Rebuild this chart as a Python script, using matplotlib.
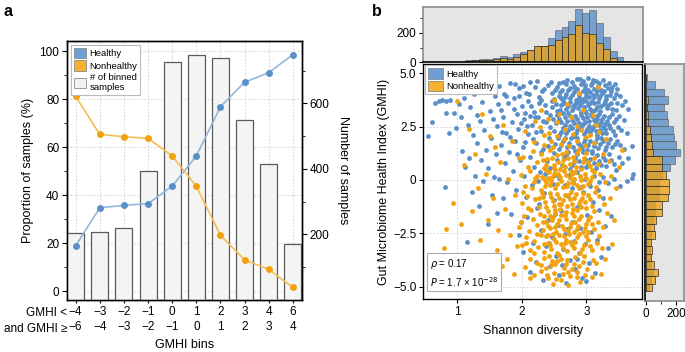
import numpy as np
import matplotlib
matplotlib.use('Agg')
import matplotlib.pyplot as plt
from matplotlib.patches import Patch
from matplotlib.ticker import MultipleLocator, FixedLocator

plt.rcParams['font.family'] = ['Liberation Sans', 'DejaVu Sans']
plt.rcParams['axes.unicode_minus'] = True

# ---------------- Panel a data ----------------
bin_upper = ['−4', '−3', '−2', '−1', '0', '1', '2', '3', '4', '6']
bin_lower = ['−6', '−4', '−3', '−2', '−1', '0', '1', '2', '3', '4']
healthy_pct = [18.9, 34.7, 35.7, 36.4, 43.7, 56.3, 76.8, 87.0, 91.0, 98.5]
nonhealthy_pct = [81.1, 65.3, 64.3, 63.6, 56.3, 43.7, 23.2, 13.0, 9.0, 1.5]
binned_counts = [205, 208, 221, 393, 726, 747, 738, 550, 414, 170]

# ---------------- Panel b data ----------------
# Marginal histogram of Shannon diversity (30 bins, 0.59 .. 3.77)
shannon_healthy = [5, 3, 4, 4, 5, 14, 16, 20, 20, 27, 41, 39, 55, 73, 86, 109, 109, 166,
                   218, 243, 282, 364, 336, 357, 266, 170, 75, 36, 11, 2]
shannon_nonhealthy = [4, 2, 4, 4, 4, 12, 14, 14, 18, 25, 27, 23, 36, 55, 86, 109, 109, 118,
                      152, 170, 191, 255, 202, 191, 130, 89, 27, 11, 5, 1]
# Marginal histogram of GMHI (29 bins, bottom -> top, -5.04 .. 5.0)
gmhi_healthy = [22, 37, 48, 37, 26, 31, 22, 37, 31, 48, 60, 64, 88, 90, 88, 105, 158, 191,
                224, 202, 187, 180, 150, 141, 123, 145, 123, 64, 9]
gmhi_nonhealthy = [40, 62, 81, 53, 37, 44, 37, 59, 53, 70, 106, 108, 147, 154, 154, 136, 108,
                   108, 50, 40, 37, 26, 15, 13, 11, 13, 4, 2, 0]

healthy_points = [
    # sparse, low diversity
    (0.54, 2.05), (0.60, 2.72), (0.66, 3.62), (0.72, 3.72), (0.77, 3.76), (0.83, 3.69), (0.89, 3.76),
    (0.82, 3.16), (0.87, 2.19), (0.81, -0.31), (0.95, 3.12), (0.98, 2.45), (1.02, 3.58), (1.05, 2.95),
    (1.08, 1.35), (1.10, 3.86), (1.12, 0.62), (1.15, -2.89), (1.16, 2.60), (1.18, 1.05), (1.20, 3.40),
    (1.22, -0.55), (1.24, 2.10), (1.26, 4.05), (1.28, 0.20), (1.30, 3.05), (1.31, 1.75), (1.33, -1.20),
    (1.35, 2.75), (1.37, 0.95), (1.38, 3.65), (1.40, -0.05), (1.42, 2.35), (1.44, 1.40), (1.45, 4.25),
    (1.47, 0.55), (1.48, -2.05), (1.50, 3.25), (1.52, 1.95), (1.53, -0.70), (1.55, 2.85), (1.57, 0.15),
    (1.58, 3.95), (1.60, 1.20), (1.61, -1.55),
    # medium diversity
    (1.62, 2.55), (1.64, 4.40), (1.65, 0.05), (1.67, 3.30), (1.68, 1.65), (1.70, -0.85), (1.71, 2.95),
    (1.73, 4.05), (1.74, 0.80), (1.76, 2.20), (1.77, -0.10), (1.79, 3.60), (1.80, 1.30), (1.82, 4.55),
    (1.83, -1.60), (1.85, 2.70), (1.86, 0.40), (1.88, 3.85), (1.89, 1.85), (1.91, -0.45), (1.92, 3.10),
    (1.94, 2.40), (1.95, 4.30), (1.97, 0.95), (1.98, -1.95), (2.00, 3.45), (2.01, 1.55), (2.03, 2.85),
    (2.04, 0.20), (2.06, 4.10), (2.07, -0.80), (2.09, 2.15), (2.10, 3.70), (2.12, 1.10), (2.13, 4.60),
    (2.15, -0.25), (2.16, 2.60), (2.18, 3.20), (2.19, 0.60), (2.21, 4.35), (2.22, 1.75), (2.24, -1.30),
    (2.25, 2.95), (2.27, 3.90), (2.28, 0.35), (2.30, 2.30), (2.31, 4.15), (2.33, 1.45), (2.34, -0.60),
    (2.36, 3.50), (2.37, 2.70), (2.39, 0.90), (2.40, 4.45), (2.42, 1.95), (2.43, 3.05),
    (1.90, 4.50), (1.96, 3.95), (2.02, 4.40), (2.05, 3.15), (2.08, 2.55), (2.11, 4.05), (2.14, 3.45),
    (2.17, 1.90), (2.20, 2.95), (2.23, 4.65), (2.26, 3.60), (2.29, 1.30), (2.32, 2.75), (2.35, 4.25),
    (2.38, 3.20), (2.41, 1.60), (2.44, 2.50), (2.45, 4.60), (2.47, 3.70), (2.49, 1.25), (2.51, 4.20),
    (2.53, 2.65), (2.54, 3.25), (2.56, 1.95), (2.57, 4.55), (2.60, 3.85), (2.44, 0.55), (2.36, 0.30),
    (2.52, 0.25), (2.30, 3.75), (2.22, 2.25), (2.13, 3.00), (2.05, 1.80), (1.99, 2.65), (1.93, 1.20),
    (1.87, 3.35), (1.81, 2.00), (1.75, 3.95), (1.69, 2.25), (1.63, 3.55),
    # low GMHI
    (1.95, -2.60), (2.02, -3.40), (2.08, -1.75), (2.12, -4.30), (2.17, -2.95), (2.22, -3.85),
    (2.26, -1.15), (2.30, -2.35), (2.33, -4.70), (2.37, -3.10), (2.40, -1.90), (2.44, -4.05),
    (2.47, -2.70), (2.50, -0.95), (2.53, -3.55), (2.56, -2.10), (2.58, -4.45), (2.61, -1.45),
    (2.64, -3.25), (2.66, -2.55), (2.69, -4.85), (2.72, -0.75), (2.74, -3.75), (2.77, -1.95),
    (2.80, -2.85), (2.82, -4.20), (2.85, -1.25), (2.88, -3.45), (2.90, -2.25), (2.93, -4.60),
    (2.95, -0.55), (2.98, -3.00), (3.01, -1.65), (3.04, -3.90), (3.07, -2.45), (3.10, -1.05),
    (3.13, -4.35), (3.16, -2.80), (3.19, -1.40), (3.22, -3.60), (3.25, -0.85), (3.28, -2.15),
    (3.33, -3.20), (3.38, -1.70), (2.52, -1.60), (2.70, -2.30), (2.86, -3.70), (3.00, -4.75),
    (2.42, -2.95), (2.62, -4.00), (2.78, -0.40), (3.06, -0.30), (3.20, -0.10), (2.48, -0.20),
    (2.25, -0.05),
    # dense core
    (2.85, 4.72), (3.02, 4.78), (3.15, 4.66), (2.95, 4.62), (3.25, 4.70), (2.70, 4.68), (3.08, 4.55),
    (2.55, 4.35), (2.62, 4.22), (2.68, 4.48), (2.74, 4.30), (2.80, 4.42), (2.86, 4.25), (2.91, 4.50),
    (2.97, 4.33), (3.03, 4.20), (3.07, 4.45), (3.12, 4.28), (3.18, 4.40), (3.23, 4.22), (3.28, 4.47),
    (3.33, 4.30), (3.40, 4.38), (3.48, 4.25), (2.47, 4.10),
    (2.50, 3.80), (2.57, 3.95), (2.63, 3.72), (2.69, 4.05), (2.75, 3.85), (2.81, 4.12), (2.84, 3.75),
    (2.89, 3.98), (2.94, 3.80), (2.99, 4.08), (3.04, 3.90), (3.09, 3.72), (3.14, 4.02), (3.19, 3.85),
    (3.24, 4.10), (3.30, 3.78), (3.36, 3.98), (3.43, 3.83), (3.52, 3.95), (3.60, 3.70), (2.92, 3.70),
    (3.12, 3.88),
    (2.46, 3.40), (2.53, 3.55), (2.59, 3.28), (2.65, 3.62), (2.71, 3.45), (2.77, 3.30), (2.82, 3.58),
    (2.87, 3.38), (2.93, 3.65), (2.98, 3.25), (3.02, 3.50), (3.06, 3.35), (3.11, 3.60), (3.16, 3.42),
    (3.21, 3.25), (3.27, 3.55), (3.32, 3.38), (3.38, 3.62), (3.45, 3.30), (3.55, 3.50), (3.65, 3.35),
    (2.79, 3.48), (3.08, 3.22),
    (2.48, 2.85), (2.55, 3.05), (2.61, 2.70), (2.67, 2.95), (2.72, 3.15), (2.78, 2.80), (2.83, 3.00),
    (2.88, 2.65), (2.94, 2.90), (2.99, 3.12), (3.04, 2.75), (3.09, 2.98), (3.14, 2.68), (3.19, 3.08),
    (3.24, 2.85), (3.29, 2.62), (3.35, 2.95), (3.42, 2.72), (3.50, 3.00), (3.58, 2.80), (2.92, 3.18),
    (3.17, 2.88),
    (2.50, 2.30), (2.57, 2.10), (2.63, 2.45), (2.69, 2.20), (2.75, 2.55), (2.81, 2.05), (2.86, 2.35),
    (2.91, 2.50), (2.96, 2.15), (3.01, 2.40), (3.06, 2.25), (3.11, 2.55), (3.16, 2.10), (3.21, 2.35),
    (3.26, 2.48), (3.31, 2.18), (3.37, 2.42), (3.44, 2.12), (3.53, 2.35), (3.62, 2.20),
    (2.52, 1.70), (2.58, 1.45), (2.64, 1.85), (2.70, 1.55), (2.76, 1.95), (2.82, 1.35), (2.87, 1.75),
    (2.93, 1.50), (2.98, 1.90), (3.03, 1.62), (3.08, 1.38), (3.13, 1.80), (3.18, 1.52), (3.23, 1.95),
    (3.28, 1.40), (3.34, 1.72), (3.40, 1.55), (3.48, 1.85), (3.58, 1.45), (3.70, 1.60),
    (2.55, 0.95), (2.62, 0.70), (2.68, 1.15), (2.74, 0.50), (2.80, 0.85), (2.86, 1.20), (2.92, 0.60),
    (2.97, 1.00), (3.03, 0.75), (3.08, 1.25), (3.14, 0.55), (3.19, 0.90), (3.25, 1.10), (3.31, 0.65),
    (3.38, 0.95), (3.46, 0.45), (3.55, 0.80), (3.65, 1.05), (3.72, 0.30),
    (2.58, 0.10), (2.66, -0.25), (2.73, 0.25), (2.79, -0.10), (2.85, 0.35), (2.91, -0.35), (2.97, 0.05),
    (3.04, -0.20), (3.11, 0.20), (3.18, -0.45), (3.26, 0.15), (3.34, -0.15), (3.43, 0.05), (3.52, -0.30),
    (3.62, -0.05), (3.70, 0.10),
    # dense core, in-between points
    (2.59, 4.12), (2.66, 3.88), (2.72, 4.20), (2.78, 3.98), (2.83, 4.30), (2.88, 3.85), (2.95, 4.15),
    (3.00, 3.95), (3.06, 4.12), (3.10, 3.98), (3.16, 4.18), (3.21, 3.95), (3.27, 4.15), (3.31, 3.92),
    (3.38, 4.18), (3.45, 4.05),
    (2.61, 3.50), (2.68, 3.32), (2.74, 3.65), (2.80, 3.40), (2.85, 3.68), (2.90, 3.50), (2.96, 3.42),
    (3.00, 3.70), (3.05, 3.62), (3.13, 3.30), (3.18, 3.65), (3.23, 3.45), (3.29, 3.70), (3.34, 3.50),
    (3.40, 3.35), (3.48, 3.60),
    (2.58, 2.88), (2.64, 3.12), (2.70, 2.75), (2.75, 3.02), (2.81, 2.68), (2.86, 2.88), (2.91, 3.05),
    (2.97, 2.72), (3.01, 2.95), (3.07, 3.10), (3.12, 2.82), (3.17, 3.00), (3.22, 2.70), (3.27, 2.98),
    (3.32, 2.78), (3.39, 3.08), (3.46, 2.88),
    (2.60, 2.25), (2.66, 2.58), (2.72, 2.32), (2.78, 2.45), (2.84, 2.20), (2.89, 2.42), (2.94, 2.62),
    (2.99, 2.28), (3.04, 2.52), (3.09, 2.38), (3.14, 2.30), (3.19, 2.58), (3.24, 2.20), (3.29, 2.40),
    (3.35, 2.60), (3.41, 2.30), (3.49, 2.50),
    (2.61, 1.62), (2.67, 1.95), (2.73, 1.75), (2.79, 1.55), (2.85, 1.95), (2.90, 1.62), (2.96, 1.78),
    (3.01, 1.42), (3.06, 1.85), (3.11, 1.58), (3.16, 1.95), (3.21, 1.68), (3.26, 1.82), (3.31, 1.55),
    (3.37, 1.90), (3.44, 1.70), (3.52, 1.62),
    (2.65, 1.05), (2.71, 1.32), (2.77, 0.72), (2.83, 1.05), (2.89, 0.90), (2.95, 1.30), (3.00, 0.62),
    (3.06, 1.00), (3.11, 0.80), (3.16, 1.15), (3.22, 0.70), (3.28, 0.92), (3.35, 1.22), (3.42, 0.75),
    (3.50, 1.10),
    (2.64, 4.58), (2.78, 4.60), (2.90, 4.75), (3.10, 4.70), (3.20, 4.55), (3.35, 4.55), (2.98, 4.45),
    (3.44, 4.50),
]

nonhealthy_points = [
    # sparse, low diversity
    (0.72, -4.46), (0.80, -3.19), (0.92, -4.06), (0.94, -1.08), (0.83, -2.30), (1.00, 3.69),
    (1.05, -2.05), (1.10, 0.70), (1.13, -3.60), (1.18, 2.40), (1.22, -1.45), (1.25, -4.20),
    (1.28, 1.20), (1.32, -0.40), (1.35, -2.80), (1.38, 3.10), (1.41, -3.95), (1.44, 0.30),
    (1.47, -1.90), (1.50, 2.05), (1.53, -4.55), (1.56, -0.85), (1.58, 1.55), (1.61, -3.30),
    (1.63, -2.35), (1.66, 0.85), (1.69, -4.05), (1.71, 2.60), (1.74, -1.35), (1.77, -3.70),
    (1.79, 0.05), (1.82, -2.60), (1.85, 1.85), (1.87, -4.40), (1.90, -0.70), (1.93, -3.10),
    (1.95, 1.05), (1.98, -1.95),
    # upper, mixed with healthy
    (2.05, 2.30), (2.18, 1.80), (2.28, 2.50), (2.35, 1.65), (2.42, 2.20), (2.48, 1.55), (2.55, 2.05),
    (2.61, 1.70), (2.67, 2.40), (2.73, 1.60), (2.79, 2.15), (2.85, 1.85), (2.92, 2.35), (2.98, 1.65),
    (3.05, 2.10), (3.12, 1.75), (3.20, 2.25), (3.30, 1.90), (2.40, 2.85), (2.58, 3.10), (2.76, 2.95),
    (2.95, 3.30), (3.10, 3.05), (2.70, 3.55), (2.88, 4.10), (3.18, 4.35), (2.50, 3.75), (2.30, 3.30),
    (2.20, 2.75),
    # core
    (2.02, 1.10), (2.10, 0.60), (2.17, 1.35), (2.23, 0.85), (2.29, 1.20), (2.34, 0.55), (2.39, 1.00),
    (2.44, 1.40), (2.49, 0.70), (2.54, 1.15), (2.59, 0.50), (2.64, 0.95), (2.69, 1.30), (2.74, 0.75),
    (2.79, 1.10), (2.84, 0.60), (2.89, 1.45), (2.94, 0.85), (2.99, 1.25), (3.05, 0.65), (3.11, 1.05),
    (3.18, 0.75), (3.26, 1.20), (3.35, 0.90),
    (1.98, 0.25), (2.05, -0.30), (2.12, 0.40), (2.18, -0.10), (2.24, 0.20), (2.29, -0.45), (2.34, 0.05),
    (2.38, 0.45), (2.43, -0.25), (2.47, 0.15), (2.52, -0.40), (2.56, 0.30), (2.61, -0.05), (2.65, 0.42),
    (2.70, -0.30), (2.74, 0.10), (2.79, -0.15), (2.83, 0.35), (2.88, -0.40), (2.92, 0.00), (2.97, 0.28),
    (3.02, -0.20), (3.08, 0.12), (3.14, -0.35), (3.21, 0.30), (3.29, -0.10), (3.38, 0.20),
    (2.00, -1.10), (2.08, -0.75), (2.14, -1.40), (2.20, -0.90), (2.26, -1.25), (2.31, -0.60),
    (2.36, -1.05), (2.41, -1.45), (2.45, -0.80), (2.50, -1.20), (2.54, -0.65), (2.59, -1.35),
    (2.63, -0.95), (2.68, -1.50), (2.72, -0.70), (2.77, -1.15), (2.81, -0.85), (2.86, -1.40),
    (2.90, -1.00), (2.95, -0.60), (3.00, -1.30), (3.06, -0.90), (3.12, -1.45), (3.19, -0.75),
    (3.27, -1.15), (3.36, -0.85),
    # lower
    (1.96, -2.20), (2.04, -1.70), (2.11, -2.40), (2.17, -1.85), (2.23, -2.10), (2.28, -1.60),
    (2.33, -2.35), (2.38, -1.95), (2.43, -2.25), (2.48, -1.75), (2.53, -2.45), (2.57, -1.90),
    (2.62, -2.15), (2.67, -1.65), (2.71, -2.40), (2.76, -2.00), (2.80, -1.70), (2.85, -2.30),
    (2.89, -1.85), (2.94, -2.45), (2.99, -2.05), (3.05, -1.75), (3.11, -2.30), (3.18, -1.95),
    (3.26, -2.20),
    (2.00, -3.05), (2.07, -2.70), (2.13, -3.30), (2.19, -2.85), (2.25, -3.15), (2.30, -2.60),
    (2.35, -3.40), (2.40, -2.95), (2.45, -3.25), (2.50, -2.75), (2.55, -3.45), (2.60, -3.00),
    (2.65, -2.65), (2.70, -3.35), (2.75, -2.90), (2.80, -3.20), (2.85, -2.70), (2.90, -3.45),
    (2.96, -3.05), (3.02, -2.80), (3.09, -3.30), (3.16, -2.95), (3.24, -3.20),
    (2.05, -4.10), (2.12, -3.70), (2.18, -4.45), (2.24, -3.90), (2.30, -4.25), (2.35, -3.65),
    (2.40, -4.60), (2.45, -4.00), (2.50, -4.35), (2.55, -3.80), (2.60, -4.70), (2.65, -4.15),
    (2.70, -3.75), (2.75, -4.50), (2.80, -3.95), (2.85, -4.30), (2.90, -4.80), (2.95, -3.85),
    (3.01, -4.20), (3.08, -4.55), (3.15, -3.90), (3.22, -4.40), (2.48, -4.90), (2.72, -4.95),
    (3.45, -0.40), (3.50, 0.60), (3.42, -1.90), (3.55, 1.40), (3.40, -3.00),
    (2.02, -0.55), (2.06, -2.95), (2.09, -1.30), (2.13, -4.60), (2.16, -0.40), (2.19, -3.45),
    (2.21, 0.10), (2.24, -2.55), (2.27, -0.85), (2.29, -4.00), (2.32, -1.95), (2.34, -3.00),
    (2.37, -0.10), (2.39, -4.45), (2.41, -2.60), (2.44, -1.70), (2.47, -3.80), (2.49, 0.55),
    (2.51, -2.20), (2.53, -4.65), (2.57, -1.15), (2.61, -3.70), (2.64, 0.70), (2.67, -2.95),
    (2.71, -4.30), (2.76, -0.55), (2.81, -2.45), (2.86, -4.55), (2.91, -1.25), (2.96, -3.55),
    (3.03, -2.45), (3.10, -3.75), (3.13, -0.55), (3.20, -2.65), (3.28, -3.70), (3.32, -1.55),
    # core, in-between points
    (2.32, 0.95), (2.37, 0.70), (2.42, 0.35), (2.46, 1.05), (2.51, 0.45), (2.56, 0.82), (2.62, 1.20),
    (2.66, 0.62), (2.71, 1.05), (2.76, 0.40), (2.81, 0.88), (2.86, 1.25), (2.91, 0.50), (2.96, 1.05),
    (3.02, 0.85), (3.08, 0.45),
    (2.31, 0.15), (2.36, -0.30), (2.41, 0.10), (2.45, -0.05), (2.50, 0.30), (2.54, -0.20), (2.59, 0.15),
    (2.63, -0.35), (2.68, 0.22), (2.72, -0.12), (2.77, 0.30), (2.81, 0.05), (2.86, -0.25), (2.90, 0.18),
    (2.95, -0.30), (3.00, 0.10), (3.05, -0.05), (3.11, 0.35),
    (2.33, -0.80), (2.38, -1.25), (2.43, -0.60), (2.48, -1.00), (2.52, -1.40), (2.57, -0.85),
    (2.61, -1.15), (2.66, -0.70), (2.70, -1.20), (2.75, -0.90), (2.79, -1.35), (2.84, -0.65),
    (2.88, -1.15), (2.93, -0.85), (2.98, -1.05), (3.03, -0.70), (3.09, -1.20),
    (2.35, -1.70), (2.40, -2.15), (2.46, -1.90), (2.51, -1.55), (2.55, -2.05), (2.60, -1.65),
    (2.65, -2.30), (2.69, -1.85), (2.74, -2.20), (2.78, -1.55), (2.83, -1.95), (2.87, -2.15),
    (2.92, -1.70), (2.97, -2.25), (3.02, -1.90), (3.08, -2.05),
    (2.38, -2.65), (2.43, -3.05), (2.48, -2.55), (2.53, -2.90), (2.58, -2.60), (2.63, -3.20),
    (2.68, -2.80), (2.73, -2.55), (2.78, -3.05), (2.83, -2.90), (2.88, -2.55), (2.93, -3.25),
    (2.99, -2.65), (3.05, -3.10),
    (2.42, -3.55), (2.52, -3.95), (2.58, -3.50), (2.63, -4.40), (2.68, -3.95), (2.78, -4.20),
    (2.83, -3.60), (2.88, -4.05), (2.98, -4.45), (2.38, -4.15),
    (2.45, 1.85), (2.65, 1.90), (2.85, 2.55), (3.00, 2.00), (2.55, 2.70), (3.15, 2.60), (2.35, 2.10),
]

rho_text = r'$\rho$ = 0.17'
p_text = r'$P$ = 1.7 × 10$^{-28}$'

# ---------------- styling ----------------
BLUE = '#5a8fc8'
ORANGE = '#f2a20e'
BLUE_LINE = '#92b6de'
ORANGE_LINE = '#f6bd55'
BLUE_LEG = '#6e9fd2'
ORANGE_LEG = '#f5b22e'
GRID = dict(ls=(0, (2, 2)), color='#cfcfcf', lw=0.6)
FS = 8.5

W, H = 685, 352
fig = plt.figure(figsize=(W / 100, H / 100), dpi=100)


def rect(x0, y0, x1, y1):
    return [x0 / W, 1 - y1 / H, (x1 - x0) / W, (y1 - y0) / H]


# ================= Panel a =================
xs = np.arange(len(bin_upper))
axg = fig.add_axes(rect(67, 41, 302, 300))
axg.set_xlim(-0.36, 9.38)
axg.set_ylim(-3.75, 104.2)
axg.set_axisbelow(True)
axg.grid(True, **GRID)
axg.set_xticks(xs)
axg.set_xticklabels([f'{u}\n{l}' for u, l in zip(bin_upper, bin_lower)], fontsize=FS,
                    linespacing=1.25)
axg.yaxis.set_major_locator(MultipleLocator(20))
axg.yaxis.set_minor_locator(MultipleLocator(10))
axg.tick_params(axis='both', which='major', direction='out', length=3.5, width=0.8, labelsize=FS,
                pad=2)
axg.tick_params(axis='y', which='minor', direction='out', length=2, width=0.6)
axg.tick_params(axis='x', length=2.5)
axg.set_ylabel('Proportion of samples (%)', fontsize=9, labelpad=4)
axg.set_xlabel('GMHI bins', fontsize=9, labelpad=5)

axb = axg.twinx()
axb.bar(xs, binned_counts, width=0.7, color='#f4f4f4', edgecolor='#5a5a5a', lw=0.9, zorder=2)
axb.set_ylim(0, 790)
axb.set_yticks([200, 400, 600])
axb.yaxis.set_minor_locator(FixedLocator([100, 300, 500, 700]))
axb.tick_params(axis='y', which='major', direction='out', length=3.5, width=0.8, labelsize=FS, pad=2)
axb.tick_params(axis='y', which='minor', direction='out', length=2, width=0.6)
axb.set_ylabel('Number of samples', fontsize=9, rotation=270, labelpad=14)

axl = axg.twinx()
axl.set_ylim(axg.get_ylim())
axl.set_axis_off()
axl.plot(xs, healthy_pct, '-', color=BLUE_LINE, lw=1.2, zorder=3)
axl.plot(xs, nonhealthy_pct, '-', color=ORANGE_LINE, lw=1.2, zorder=3)
axl.plot(xs, healthy_pct, 'o', color=BLUE, ms=5, mec='none', zorder=4, clip_on=False)
axl.plot(xs, nonhealthy_pct, 'o', color=ORANGE, ms=5, mec='none', zorder=4, clip_on=False)

for a in (axg, axb):
    for s in a.spines.values():
        s.set_color('black')
        s.set_linewidth(1.0)

leg_a = axl.legend(handles=[Patch(fc=BLUE_LEG, ec='#8a8a8a', lw=0.6),
                            Patch(fc=ORANGE_LEG, ec='#8a8a8a', lw=0.6),
                            Patch(fc='#f2f2f2', ec='#8a8a8a', lw=0.6)],
                   labels=['Healthy', 'Nonhealthy', '# of binned\nsamples'],
                   loc='upper left', bbox_to_anchor=(0.0, 1.0), fontsize=6.8, frameon=True,
                   fancybox=False, edgecolor='#bbbbbb', framealpha=1, borderaxespad=0.4,
                   handlelength=1.3, handleheight=1.3, handletextpad=0.4, borderpad=0.3,
                   labelspacing=0.25)
leg_a.get_frame().set_linewidth(0.8)

fig.text(67.5 / W, 1 - 313.5 / H, 'GMHI <', ha='right', va='center', fontsize=FS)
fig.text(67.5 / W, 1 - 329.5 / H, 'and GMHI ≥', ha='right', va='center', fontsize=FS)
fig.text(4 / W, 1 - 11 / H, 'a', fontsize=11.5, fontweight='bold', ha='left', va='center')

# ================= Panel b =================
XL = (0.473, 3.86)
YL = (-5.6, 5.44)
ax = fig.add_axes(rect(423.3, 64, 642, 299.3))
ax.set_xlim(*XL)
ax.set_ylim(*YL)
ax.set_axisbelow(True)
ax.grid(True, **GRID)
hx, hy = zip(*healthy_points)
nx, ny = zip(*nonhealthy_points)
ax.scatter(hx, hy, s=12, color=BLUE, lw=0, zorder=2)
ax.scatter(nx, ny, s=12, color=ORANGE, lw=0, zorder=3)
ax.set_xticks([1, 2, 3])
ax.set_yticks([5.0, 2.5, 0, -2.5, -5.0])
ax.set_yticklabels(['5.0', '2.5', '0', '−2.5', '−5.0'])
ax.tick_params(axis='both', direction='out', length=3, width=0.8, labelsize=FS, pad=2)
ax.set_xlabel('Shannon diversity', fontsize=9, labelpad=5)
ax.set_ylabel('Gut Microbiome Health Index (GMHI)', fontsize=9, labelpad=2)
for s in ax.spines.values():
    s.set_color('black')
    s.set_linewidth(1.0)

leg_b = ax.legend(handles=[Patch(fc=BLUE_LEG, ec='#8a8a8a', lw=0.6),
                           Patch(fc=ORANGE_LEG, ec='#8a8a8a', lw=0.6)],
                  labels=['Healthy', 'Nonhealthy'], loc='upper left', fontsize=6.8,
                  frameon=True, fancybox=False, edgecolor='#bbbbbb', framealpha=1,
                  borderaxespad=0.15, handlelength=1.6, handleheight=1.3, handletextpad=0.4,
                  borderpad=0.3, labelspacing=0.25)
leg_b.get_frame().set_linewidth(0.8)

ax.text(0.03, 0.045, rho_text + '\n' + p_text, transform=ax.transAxes, fontsize=7,
        ha='left', va='bottom', linespacing=1.3, zorder=5,
        bbox=dict(boxstyle='square,pad=0.25', fc='white', ec='#aaaaaa', lw=0.8))

fig.text(372 / W, 1 - 11 / H, 'b', fontsize=11.5, fontweight='bold', ha='left', va='center')

HBG = '#e5e5e5'
# top marginal
axt = fig.add_axes(rect(423.3, 7, 643, 62.3))
axt.set_facecolor(HBG)
sh_edges = np.linspace(0.59, 3.77, len(shannon_healthy) + 1)
sw = sh_edges[1] - sh_edges[0]
axt.bar(sh_edges[:-1], shannon_healthy, width=sw, align='edge', color=BLUE, alpha=0.8,
        edgecolor='#555555', lw=0.5)
axt.bar(sh_edges[:-1], shannon_nonhealthy, width=sw, align='edge', color=ORANGE, alpha=0.75,
        edgecolor='#222222', lw=0.6)
axt.set_xlim(*XL)
axt.set_ylim(0, 376)
axt.set_xticks([])
axt.set_yticks([0, 200])
axt.yaxis.set_minor_locator(FixedLocator([100, 300]))
axt.tick_params(axis='y', which='major', direction='out', length=3, width=0.8, labelsize=FS, pad=2)
axt.tick_params(axis='y', which='minor', direction='out', length=2, width=0.6)
for s in axt.spines.values():
    s.set_color('#8c8c8c')
    s.set_linewidth(1.2)
axt.spines['bottom'].set_color('black')

# right marginal
axr = fig.add_axes(rect(645, 64, 684, 301))
axr.set_facecolor(HBG)
gm_edges = np.linspace(-5.04, 5.0, len(gmhi_healthy) + 1)
gw = gm_edges[1] - gm_edges[0]
axr.barh(gm_edges[:-1], gmhi_healthy, height=gw, align='edge', color=BLUE, alpha=0.8,
         edgecolor='#555555', lw=0.5)
axr.barh(gm_edges[:-1], gmhi_nonhealthy, height=gw, align='edge', color=ORANGE, alpha=0.75,
         edgecolor='#222222', lw=0.6)
axr.set_ylim(YL[0] + 0.1, YL[1])
axr.set_xlim(-4, 253)
axr.set_yticks([])
axr.set_xticks([0, 200])
axr.xaxis.set_minor_locator(FixedLocator([100]))
axr.tick_params(axis='x', which='major', direction='out', length=3, width=0.8, labelsize=FS, pad=2)
axr.tick_params(axis='x', which='minor', direction='out', length=2, width=0.6)
for s in axr.spines.values():
    s.set_color('#8c8c8c')
    s.set_linewidth(1.2)
axr.spines['left'].set_color('black')

fig.savefig('out.png', dpi=100)
